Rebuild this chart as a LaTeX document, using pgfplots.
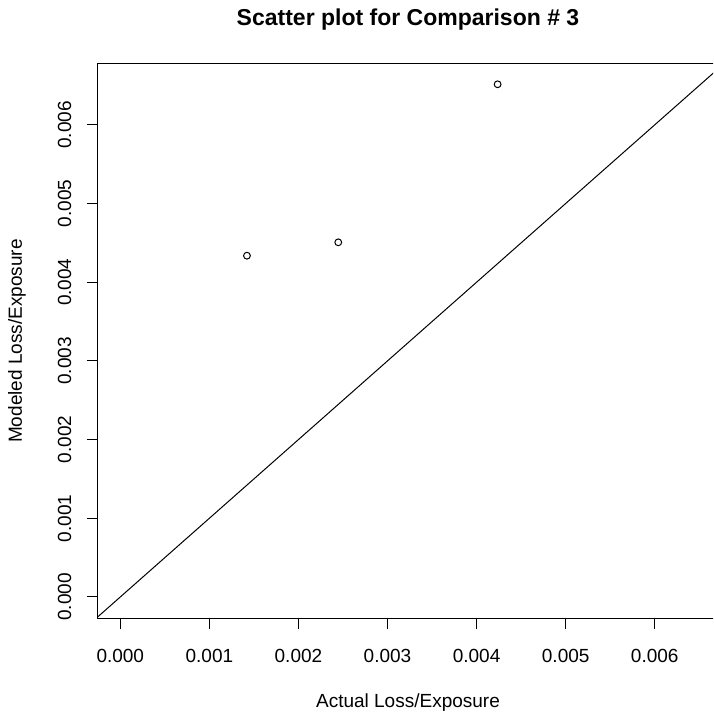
\documentclass[border=0pt]{standalone}
\usepackage{pgfplots}
\pgfplotsset{compat=1.18}
\usepackage{fontspec}
\setmainfont{Liberation Sans}
\begin{document}
\begin{tikzpicture}[x=1pt,y=1pt]
\useasboundingbox (0,0) rectangle (713,717);
\clip (0,0) rectangle (713,717);
\begin{axis}[
  at={(97.3pt,98.3pt)}, anchor=south west,
  scale only axis, width=620.7pt, height=554.7pt,
  xmin=-0.000258, xmax=0.00671, ymin=-0.000276, ymax=0.006773,
  scaled ticks=false,
  xtick={0,0.001,0.002,0.003,0.004,0.005,0.006},
  xticklabels={0.000,0.001,0.002,0.003,0.004,0.005,0.006},
  ytick={0,0.001,0.002,0.003,0.004,0.005,0.006},
  yticklabels={0.000,0.001,0.002,0.003,0.004,0.005,0.006},
  xtick pos=bottom, ytick pos=left,
  tick align=outside, major tick length=10.7pt,
  tick style={black, line width=1pt},
  axis line style={black, line width=1pt},
  font=\fontsize{19}{23}\selectfont,
  xticklabel style={anchor=center, yshift=-27pt},
  yticklabel style={rotate=90, anchor=center, yshift=22pt},
]
\addplot[black, line width=1pt] coordinates {(-0.001,-0.001) (0.008,0.008)};
\addplot[only marks, mark=o, mark size=3.4pt, mark options={black, line width=1pt}] coordinates {
  (0.001422,0.004337)
  (0.002447,0.004507)
  (0.004236,0.006515)
};
\end{axis}
\node[font=\fontsize{23}{27}\selectfont\bfseries] at (408,697) {Scatter plot for Comparison \# 3};
\node[font=\fontsize{19}{23}\selectfont] at (408,14) {Actual Loss/Exposure};
\node[font=\fontsize{19}{23}\selectfont, rotate=90] at (17,376) {Modeled Loss/Exposure};
\end{tikzpicture}
\end{document}
